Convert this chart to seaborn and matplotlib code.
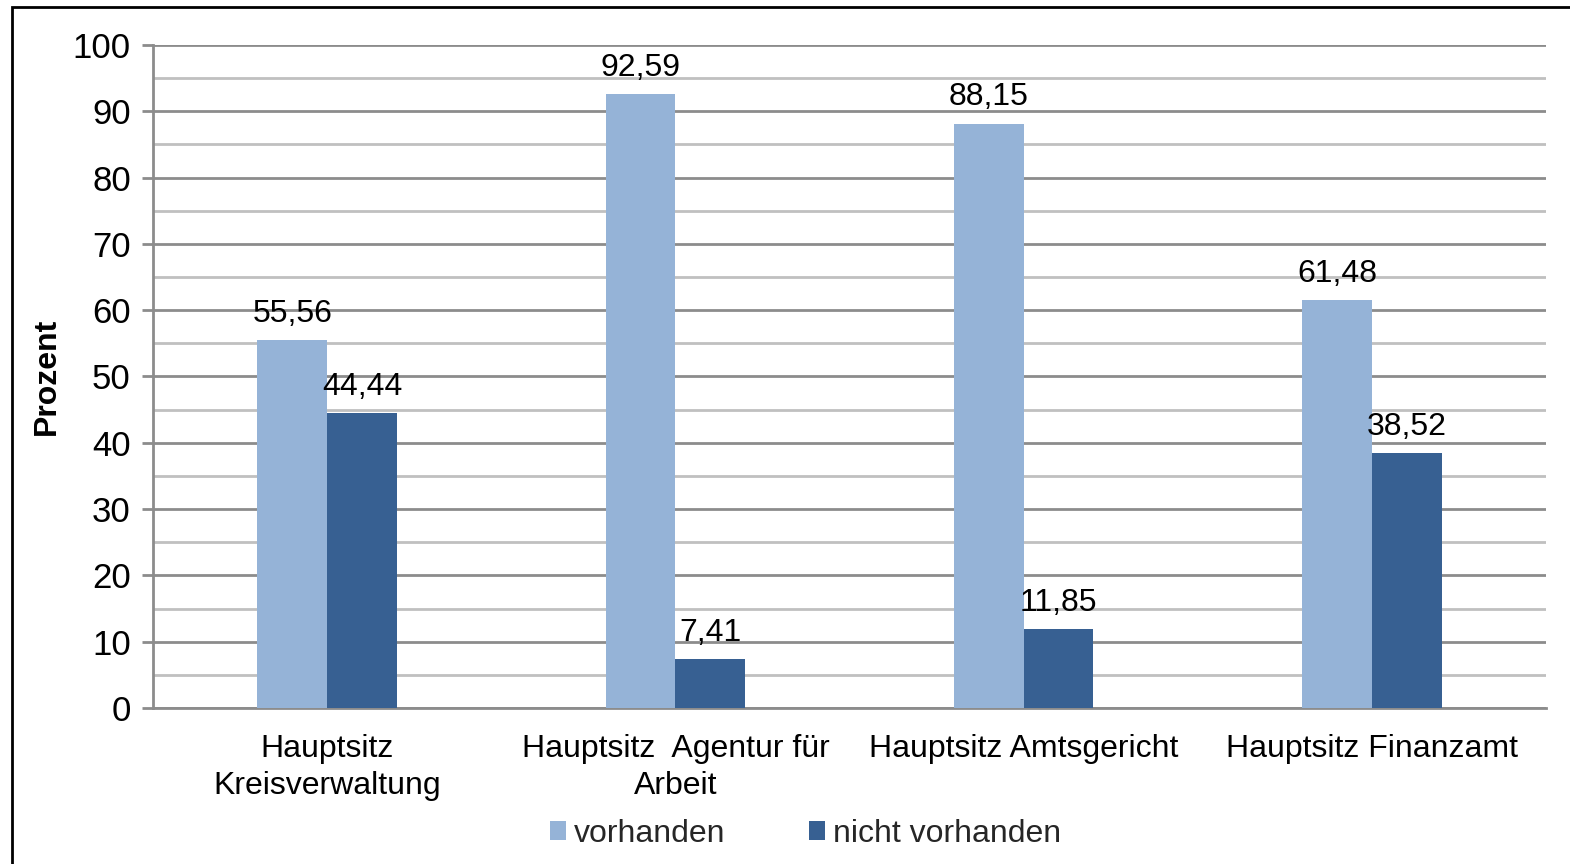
import matplotlib
matplotlib.use("Agg")
import matplotlib.pyplot as plt
import seaborn as sns
import pandas as pd
from matplotlib.patches import Rectangle
from matplotlib.ticker import MultipleLocator

# Data
categories = ["Hauptsitz\nKreisverwaltung", "Hauptsitz  Agentur für\nArbeit",
              "Hauptsitz Amtsgericht", "Hauptsitz Finanzamt"]
vorhanden = [55.56, 92.59, 88.15, 61.48]
nicht_vorhanden = [44.44, 7.41, 11.85, 38.52]
series = ["vorhanden", "nicht vorhanden"]
colors = ["#95B3D7", "#376092"]

df = pd.DataFrame({
    "Kategorie": categories * 2,
    "Wert": vorhanden + nicht_vorhanden,
    "Serie": [series[0]] * 4 + [series[1]] * 4,
})

sns.set_theme(style="white")
plt.rcParams["font.family"] = ["Liberation Sans", "DejaVu Sans"]

fig = plt.figure(figsize=(15.7, 8.64), dpi=100)
ax = fig.add_axes([153 / 1570, 1 - 708 / 864, (1546 - 153) / 1570, (708 - 45) / 864])

sns.barplot(data=df, x="Kategorie", y="Wert", hue="Serie", palette=colors,
            width=0.4, errorbar=None, saturation=1, linewidth=0, ax=ax, zorder=3)

# Value labels with German decimal comma
for cont in ax.containers:
    ax.bar_label(cont, labels=[f"{v:.2f}".replace(".", ",") for v in cont.datavalues],
                 padding=8, fontsize=23, color="black")

ax.set_ylim(0, 100)
ax.set_xlim(-0.5, 3.5)
ax.yaxis.set_major_locator(MultipleLocator(10))
ax.yaxis.set_minor_locator(MultipleLocator(5))
ax.grid(axis="y", which="major", color="#8c8c8c", linewidth=2, zorder=0)
ax.grid(axis="y", which="minor", color="#c0c0c0", linewidth=2, zorder=0)
ax.set_axisbelow(True)

ax.tick_params(axis="y", which="major", length=8, width=2, color="#8c8c8c",
               labelsize=25, labelcolor="black", pad=8, left=True)
ax.tick_params(axis="y", which="minor", length=0)
ax.tick_params(axis="x", length=0, labelsize=23, labelcolor="black", pad=19)
for lab in ax.get_xticklabels():
    lab.set_linespacing(1.3)

ax.set_xlabel("")
ax.set_ylabel("Prozent", fontsize=23, fontweight="bold", color="black", labelpad=8)

for side in ["top", "right"]:
    ax.spines[side].set_visible(False)
for side in ["left", "bottom"]:
    ax.spines[side].set_color("#8c8c8c")
    ax.spines[side].set_linewidth(2)

leg = ax.legend(loc="center", bbox_to_anchor=(0.513, 0.035), bbox_transform=fig.transFigure,
                ncol=2, frameon=False, fontsize=23, handlelength=0.5, handleheight=0.5,
                handletextpad=0.25, columnspacing=2.6)

# Outer frame of the chart
fig.patches.append(Rectangle((12 / 1570, -0.1), 1.2, 1 - 7 / 864 + 0.1,
                             transform=fig.transFigure, fill=False,
                             edgecolor="black", linewidth=2))

fig.savefig("out.png", dpi=100)
